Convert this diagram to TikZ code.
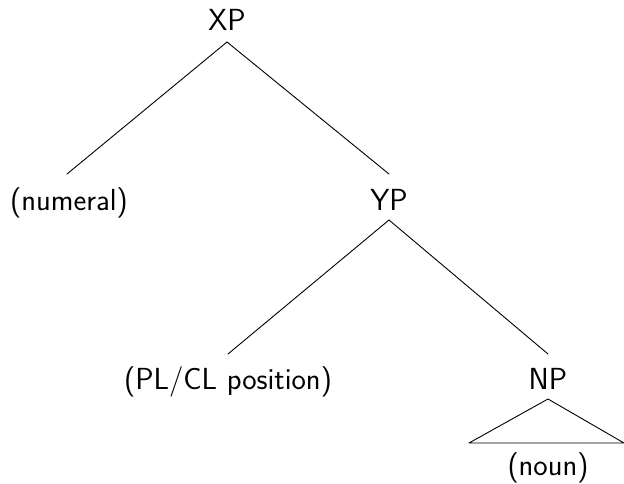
\documentclass[tikz,border=0pt]{standalone}
\usepackage{fontspec}
\begin{document}
\begin{tikzpicture}[x=1pt,y=-1pt,
  lbl/.style={anchor=base,inner sep=0pt,font=\sffamily\fontsize{30.5}{36}\selectfont},
  edge/.style={line width=0.9pt,line cap=round,line join=round}]
\useasboundingbox (0,0) rectangle (624,484);
\node[lbl] (xp) at (227,31) {XP};
\node[lbl] (num) at (69,210) {(numeral)};
\node[lbl] (yp) at (389,210) {YP};
\node[lbl] (pl) at (228,389) {(PL/CL position)};
\node[lbl] (np) at (548,389) {NP};
\node[lbl] (noun) at (548,475) {(noun)};
\coordinate (xpb) at ([yshift=-11pt]xp.base);
\coordinate (ypb) at ([yshift=-10pt]yp.base);
\coordinate (npb) at ([yshift=-10pt]np.base);
\draw[edge] (xpb) -- ([xshift=-2pt,yshift=36pt]num.base);
\draw[edge] (xpb) -- ([yshift=36pt]yp.base);
\draw[edge] (ypb) -- ([yshift=35pt]pl.base);
\draw[edge] (ypb) -- ([yshift=35pt]np.base);
\draw[edge] (npb) -- ([xshift=-79pt,yshift=32pt]noun.base) -- ([xshift=76pt,yshift=32pt]noun.base) -- cycle;
\end{tikzpicture}
\end{document}
